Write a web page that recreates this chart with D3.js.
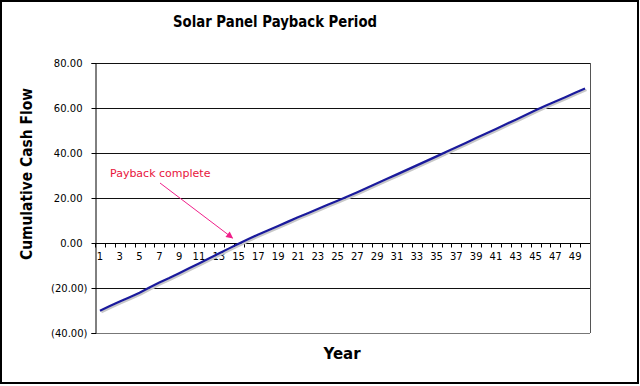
<!DOCTYPE html>
<html lang="en">
    <head>
        <meta charset="utf-8">
        <title>Solar Panel Payback Period</title>
        <script type="text/javascript" src="https://cdn.jsdelivr.net/npm/d3@7"></script>
        <style>
            body { margin: 0; background: #fff; }
            svg { display: block; }
        </style>
    </head>
    <body>
        <script type="text/javascript">

            // Chart data
            var years = d3.range(1, 51);
            var cashFlow = [-30.1, -28.0, -26.0, -24.1, -22.1, -19.8, -17.6, -15.6, -13.4, -11.2,
                            -9.1, -6.9, -4.7, -2.5, -0.3, 1.8, 3.8, 5.7, 7.6, 9.5,
                            11.4, 13.2, 15.1, 17.0, 18.8, 20.7, 22.6, 24.6, 26.6, 28.6,
                            30.5, 32.5, 34.5, 36.5, 38.5, 40.6, 42.6, 44.6, 46.7, 48.7,
                            50.7, 52.8, 54.8, 56.9, 59.0, 61.0, 62.9, 64.8, 66.8, 68.7];
            var yTicks = [-40, -20, 0, 20, 40, 60, 80];
            var paybackYear = 15;

            var w = 640, h = 386;
            // plot area edges (note: "top" is reserved on window, so prefix them)
            var pLeft = 95, pRight = 590, pTop = 63, pBottom = 333;

            var svg = d3.select("body").append("svg").attr("width", w).attr("height", h);

            // outer frame
            svg.append("rect").attr("x", 1).attr("y", 1).attr("width", w - 3).attr("height", h - 4)
                .attr("fill", "#fff").attr("stroke", "#000").attr("stroke-width", 2);

            var x = d3.scaleBand().domain(years).range([pLeft, pRight]);
            var y = d3.scaleLinear().domain([-40, 80]).range([pBottom, pTop]);

            var fmt = function(d) {
                return d < 0 ? "(" + d3.format(".2f")(-d) + ")" : d3.format(".2f")(d);
            };

            // gridlines
            svg.selectAll("line.grid")
                .data(yTicks.filter(function(d) { return d != 0 && d != -40; }))
                .enter()
                .append("line")
                .attr("class", "grid")
                .attr("x1", pLeft).attr("x2", pRight)
                .attr("y1", function(d) { return y(d) + 0.5; })
                .attr("y2", function(d) { return y(d) + 0.5; })
                .attr("stroke", "#111").attr("stroke-width", 1);

            // plot border right / bottom
            svg.append("line").attr("x1", pRight + 0.5).attr("x2", pRight + 0.5).attr("y1", pTop).attr("y2", pBottom)
                .attr("stroke", "#555");
            svg.append("line").attr("x1", pLeft).attr("x2", pRight).attr("y1", pBottom + 0.5).attr("y2", pBottom + 0.5)
                .attr("stroke", "#777");

            // y axis
            var yAxis = d3.axisLeft(y).tickValues(yTicks).tickSize(4).tickPadding(9).tickFormat(fmt);
            var gy = svg.append("g").attr("transform", "translate(" + (pLeft + 0.5) + ",0)").call(yAxis);
            gy.selectAll("text")
                .attr("font-family", "DejaVu Sans, Verdana, sans-serif").attr("font-size", 10).attr("fill", "#000")
                .attr("dx", function(d) { return d < 0 ? 5 : 0; });
            gy.selectAll("line, path").attr("stroke", "#000");

            // x axis at zero (category ticks between labels)
            var gx = svg.append("g").attr("transform", "translate(0," + (y(0) + 0.5) + ")");
            gx.append("line").attr("x1", pLeft).attr("x2", pRight).attr("stroke", "#000");
            gx.selectAll("line.tick")
                .data(years)
                .enter()
                .append("line")
                .attr("class", "tick")
                .attr("x1", function(d) { return Math.round(x(d)) + 0.5; })
                .attr("x2", function(d) { return Math.round(x(d)) + 0.5; })
                .attr("y1", 0).attr("y2", 4)
                .attr("stroke", "#000");
            gx.selectAll("text")
                .data(years.filter(function(d) { return d % 2 == 1; }))
                .enter()
                .append("text")
                .text(function(d) { return d; })
                .attr("x", function(d) { return x(d) + x.bandwidth() / 2; })
                .attr("y", 16)
                .attr("text-anchor", "middle")
                .attr("font-family", "DejaVu Sans, Verdana, sans-serif").attr("font-size", 10).attr("fill", "#000");

            // line with shadow
            var line = d3.line()
                .x(function(d, i) { return x(years[i]) + x.bandwidth() / 2; })
                .y(function(d) { return y(d); });

            svg.append("path").datum(cashFlow)
                .attr("d", line)
                .attr("transform", "translate(1.5,1.5)")
                .attr("fill", "none").attr("stroke", "#c8c8c8").attr("stroke-width", 2.2);
            svg.append("path").datum(cashFlow)
                .attr("d", line)
                .attr("fill", "none").attr("stroke", "#1a1a9c").attr("stroke-width", 2.2);

            // annotation
            var defs = svg.append("defs");
            defs.append("marker").attr("id", "arrow")
                .attr("viewBox", "0 0 10 10").attr("refX", 9).attr("refY", 5)
                .attr("markerWidth", 9).attr("markerHeight", 7).attr("orient", "auto")
                .attr("markerUnits", "userSpaceOnUse")
                .append("path").attr("d", "M0,0 L10,5 L0,10 Z").attr("fill", "#f0208a");

            svg.append("line")
                .attr("x1", 160).attr("y1", 183)
                .attr("x2", x(paybackYear) - 1).attr("y2", y(0) - 5)
                .attr("stroke", "#f0208a").attr("stroke-width", 1)
                .attr("marker-end", "url(#arrow)");
            svg.append("text")
                .text("Payback complete")
                .attr("x", 110).attr("y", 177)
                .attr("font-family", "DejaVu Sans, Verdana, sans-serif").attr("font-size", 11)
                .attr("fill", "#e8143c");

            // titles
            svg.append("text")
                .text("Solar Panel Payback Period")
                .attr("x", 275).attr("y", 27)
                .attr("text-anchor", "middle")
                .attr("font-family", "DejaVu Sans, Verdana, sans-serif").attr("font-weight", "bold")
                .attr("font-size", 16)
                .attr("textLength", 204).attr("lengthAdjust", "spacingAndGlyphs");

            svg.append("text")
                .text("Year")
                .attr("x", 342).attr("y", 359)
                .attr("text-anchor", "middle")
                .attr("font-family", "DejaVu Sans, Verdana, sans-serif").attr("font-weight", "bold")
                .attr("font-size", 15);

            svg.append("text")
                .text("Cumulative Cash Flow")
                .attr("transform", "translate(32,174) rotate(-90)")
                .attr("text-anchor", "middle")
                .attr("font-family", "DejaVu Sans, Verdana, sans-serif").attr("font-weight", "bold")
                .attr("font-size", 15)
                .attr("textLength", 172).attr("lengthAdjust", "spacingAndGlyphs");

        </script>
    </body>
</html>
